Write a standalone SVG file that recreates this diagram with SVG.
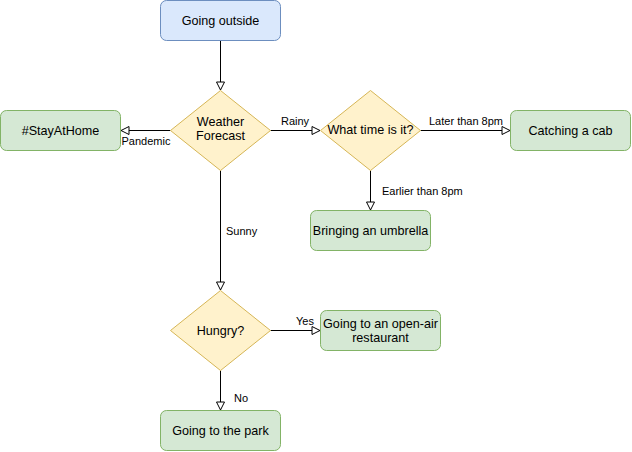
<svg xmlns="http://www.w3.org/2000/svg" width="632" height="452" viewBox="0 0 632 452">
<style>
.blue{fill:#dae8fc;stroke:#6c8ebf;stroke-width:1}
.green{fill:#d5e8d4;stroke:#82b366;stroke-width:1}
.dec{fill:#fff2cc;stroke:#d6b656;stroke-width:1}
.t{font-family:"Liberation Sans",Arial,Helvetica,sans-serif;font-size:12.6px;fill:#000;text-anchor:middle}
.lbl{font-family:"Liberation Sans",Arial,Helvetica,sans-serif;font-size:11px;fill:#000}
.edge{stroke:#000;stroke-width:1;fill:none;marker-end:url(#arr)}
</style>
<defs>
<marker id="arr" markerUnits="userSpaceOnUse" markerWidth="10" markerHeight="10" refX="8" refY="4" orient="auto" viewBox="-1 -1 10 10">
<path d="M0,0 L8,4 L0,8 Z" fill="#fff" stroke="#000" stroke-width="1"/>
</marker>
</defs>
<rect width="632" height="452" fill="#fff"/>
<g id="connectors">
<path class="edge" d="M220.5,40.5 V90"/>
<path class="edge" d="M170.5,130.5 H121"/>
<path class="edge" d="M270.5,130.5 H320"/>
<path class="edge" d="M420.5,130.5 H510"/>
<path class="edge" d="M370.5,170.5 V210"/>
<path class="edge" d="M220.5,170.5 V290"/>
<path class="edge" d="M270.5,330.5 H320"/>
<path class="edge" d="M220.5,370.5 V410"/>
<text class="lbl" x="146" y="145" text-anchor="middle">Pandemic</text>
<text class="lbl" x="295" y="125" text-anchor="middle">Rainy</text>
<text class="lbl" x="466" y="125" text-anchor="middle">Later than 8pm</text>
<text class="lbl" x="382" y="195">Earlier than 8pm</text>
<text class="lbl" x="226" y="235">Sunny</text>
<text class="lbl" x="296" y="325">Yes</text>
<text class="lbl" x="234" y="402">No</text>
</g>
<g id="going-outside">
<rect class="blue" x="160.5" y="0.5" width="120" height="40" rx="6"/>
<text class="t" x="220.5" y="25">Going outside</text>
</g>
<g id="weather-forecast">
<path class="dec" d="M220.5,90.5 L270.5,130.5 L220.5,170.5 L170.5,130.5 Z"/>
<text class="t" x="220.5" y="126">Weather</text>
<text class="t" x="220.5" y="140">Forecast</text>
</g>
<g id="stay-at-home">
<rect class="green" x="0.5" y="110.5" width="120" height="40" rx="6"/>
<text class="t" x="60.5" y="135">#StayAtHome</text>
</g>
<g id="what-time">
<path class="dec" d="M370.5,90.5 L420.5,130.5 L370.5,170.5 L320.5,130.5 Z"/>
<text class="t" x="370.5" y="134">What time is it?</text>
</g>
<g id="catching-cab">
<rect class="green" x="510.5" y="110.5" width="120" height="40" rx="6"/>
<text class="t" x="570.5" y="135">Catching a cab</text>
</g>
<g id="bringing-umbrella">
<rect class="green" x="310.5" y="210.5" width="120" height="40" rx="6"/>
<text class="t" x="370.5" y="235">Bringing an umbrella</text>
</g>
<g id="hungry">
<path class="dec" d="M220.5,290.5 L270.5,330.5 L220.5,370.5 L170.5,330.5 Z"/>
<text class="t" x="220.5" y="334.5">Hungry?</text>
</g>
<g id="open-air">
<rect class="green" x="320.5" y="310.5" width="120" height="40" rx="6"/>
<text class="t" x="380.5" y="327.5">Going to an open-air</text>
<text class="t" x="380.5" y="341.5">restaurant</text>
</g>
<g id="park">
<rect class="green" x="160.5" y="410.5" width="120" height="40" rx="6"/>
<text class="t" x="220.5" y="435">Going to the park</text>
</g>
</svg>
